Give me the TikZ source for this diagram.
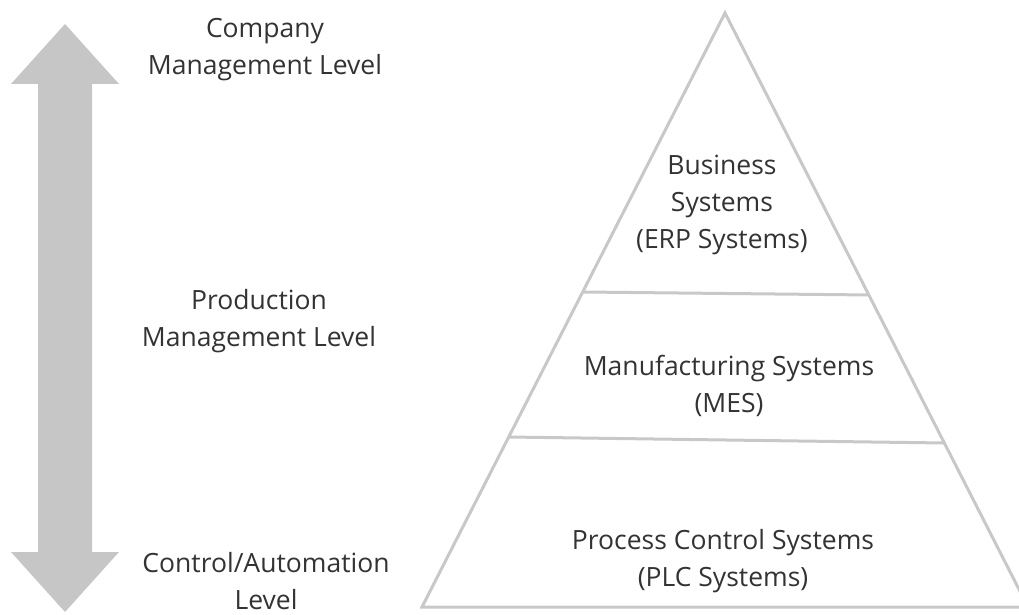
\documentclass[tikz,border=0pt]{standalone}
\usepackage{fontspec}
\setmainfont{Open Sans}
\usetikzlibrary{calc}
\definecolor{linegray}{HTML}{C8C8C8}
\definecolor{arrowgray}{HTML}{C6C6C6}
\definecolor{txt}{HTML}{333333}
\tikzset{
  lbl/.style={align=center, text=txt, font=\fontsize{26.5}{37}\selectfont, inner sep=0pt},
  pyr/.style={draw=linegray, line width=3pt, line join=miter},
}
\begin{document}
\begin{tikzpicture}[x=1pt,y=-1pt]
\useasboundingbox (0,0) rectangle (1019,615);
\clip (0,0) rectangle (1019,615);
% double arrow
\fill[arrowgray] (65,24) -- (119,84) -- (92,84) -- (92,552) -- (119,552) -- (65,612)
  -- (11,552) -- (38,552) -- (38,84) -- (11,84) -- cycle;
% pyramid
\coordinate (apex) at (725,13);
\coordinate (bl) at (422,607);
\coordinate (br) at (1028,607);
\draw[pyr] (apex) -- (bl) -- (br) -- cycle;
\coordinate (d1l) at ($(apex)!0.4697!(bl)$);
\coordinate (d1r) at ($(apex)!0.4747!(br)$);
\coordinate (d2l) at ($(apex)!0.7138!(bl)$);
\coordinate (d2r) at ($(apex)!0.7239!(br)$);
\draw[pyr] (d1l) -- (d1r);
\draw[pyr] (d2l) -- (d2r);
% labels
\node[lbl] (comp) at (265,50) {Company\\Management Level};
\node[lbl] (prod) at (259,321) {Production\\Management Level};
\node[lbl] (ctrl) at (266,581) {Control/Automation\\Level};
\node[lbl] (bus) at (722,205) {Business\\Systems\\(ERP Systems)};
\node[lbl] (mfg) at (729,386) {Manufacturing Systems\\(MES)};
\node[lbl] (proc) at (723,561) {Process Control Systems\\(PLC Systems)};
\end{tikzpicture}
\end{document}
